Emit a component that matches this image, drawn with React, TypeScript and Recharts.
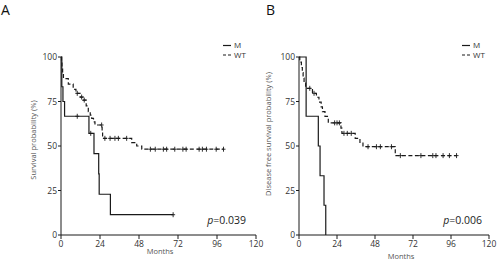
/**
 * Kaplan-Meier survival curves, M vs WT
 * Two panels drawn with recharts LineChart (stepAfter)
 */

import { LineChart, Line, XAxis, YAxis } from 'recharts';

/** Panel A - overall survival */
const A_M_TIME = [0, 0.5, 1.2, 2.2, 10, 17.2, 18.3, 20.3, 23.2, 23.5, 30.4, 69];
const A_M_SURV = [100, 83.3, 75, 66.7, 66.7, 57.1, 57.1, 45.7, 34.3, 22.9, 11.4, 11.4];
const A_M_CENSOR = [0, 0, 0, 0, 1, 0, 1, 0, 0, 0, 0, 1];

const A_WT_TIME = [
  0, 0.3, 0.6, 1.0, 1.5, 4.5, 7.5, 9.2, 10, 11.8, 12.7, 13.6, 14.3, 15.5, 16.8,
  18, 18.9, 20, 20.9, 25, 25.3, 25.6, 27, 30.2, 33.2, 35.3, 40.4, 43.5, 46.6, 49.7,
  55, 58, 63, 65, 70, 75, 77, 85, 87, 89.5, 95.5, 100,
];
const A_WT_SURV = [
  100, 97, 93.9, 90.9, 87.9, 84.8, 81.8, 79.6, 79.6, 77.5, 77.5, 75.8, 75.8, 72.5, 69.3,
  67.4, 65.5, 63.6, 61.8, 61.8, 58, 54.3, 54.3, 54.3, 54.3, 54.3, 54.3, 51.9, 50, 48.2,
  48.2, 48.2, 48.2, 48.2, 48.2, 48.2, 48.2, 48.2, 48.2, 48.2, 48.2, 48.2,
];
const A_WT_CENSOR = [
  0, 0, 0, 0, 0, 0, 0, 0, 1, 0, 1, 0, 1, 0, 0,
  0, 0, 0, 0, 1, 0, 0, 1, 1, 1, 1, 1, 0, 0, 0,
  1, 1, 1, 1, 1, 1, 1, 1, 1, 1, 1, 1,
];

/** Panel B - disease free survival */
const B_M_TIME = [0, 4.5, 12.2, 13.3, 15.8, 16.9];
const B_M_SURV = [100, 66.7, 50, 33.3, 16.7, 0];
const B_M_CENSOR = [0, 0, 0, 0, 0, 0];

const B_WT_TIME = [
  0, 0.5, 1.5, 2.1, 2.6, 3.2, 4.2, 6.8, 8.5, 9.5, 11, 12.6, 14, 14.8, 16.4,
  18.5, 22.5, 24, 25.5, 26.5, 27.1, 28.4, 30.5, 33, 35.5, 38.5, 40.4, 43.6, 48.9, 51.4,
  58.4, 60.8, 64, 77, 84.5, 86.5, 91, 95, 99.5,
];
const B_WT_SURV = [
  100, 97.1, 94.1, 91.2, 88.2, 85.3, 82.4, 82.4, 79.6, 79.6, 77.4, 74.7, 72, 69.3, 66.6,
  63, 63, 63, 63, 60, 57.1, 57.1, 57.1, 57.1, 54.3, 52, 49.6, 49.6, 49.6, 49.6,
  49.6, 44.6, 44.6, 44.6, 44.6, 44.6, 44.6, 44.6, 44.6,
];
const B_WT_CENSOR = [
  0, 0, 0, 0, 0, 0, 0, 1, 0, 1, 0, 0, 0, 0, 0,
  0, 1, 1, 1, 0, 0, 1, 1, 1, 0, 0, 0, 1, 1, 1,
  1, 0, 1, 1, 1, 1, 1, 1, 1,
];

const X_TICKS = [0, 24, 48, 72, 96, 120];
const Y_TICKS = [0, 25, 50, 75, 100];

const INK = '#1a1a1a';
const TICK_STYLE = { fontSize: 8.5, fill: '#333', fontFamily: 'Open Sans' };

function toSeries(time: number[], surv: number[], censor: number[]) {
  return time.map((t, i) => ({ time: t, surv: surv[i], censor: censor[i] === 1 }));
}

/** 删失标记 "+" */
function censorDot(prefix: string) {
  return (props: any) => {
    const { cx, cy, payload, index } = props;
    if (!payload || !payload.censor || cx == null || cy == null) {
      return <g key={`${prefix}-${index}`} />;
    }
    return (
      <g key={`${prefix}-${index}`}>
        <line x1={cx} x2={cx} y1={cy - 2.5} y2={cy + 2.5} stroke={INK} strokeWidth={0.9} />
        <line x1={cx - 2} x2={cx + 2} y1={cy} y2={cy} stroke={INK} strokeWidth={0.9} />
      </g>
    );
  };
}

/** 图例（HTML 叠加，避免占用绘图区高度） */
function KmLegend({ left, top }: { left: number; top: number }) {
  return (
    <svg width={40} height={24} style={{ position: 'absolute', left, top, overflow: 'visible' }}>
      <line x1={0} x2={8} y1={3.5} y2={3.5} stroke={INK} strokeWidth={1.2} />
      <text x={11} y={3.5} dy="0.35em" fontSize={8} fill="#333" fontFamily="Open Sans">M</text>
      <line x1={0} x2={8} y1={13} y2={13} stroke={INK} strokeWidth={1.2} strokeDasharray="3 2" />
      <text x={11} y={13} dy="0.35em" fontSize={8} fill="#333" fontFamily="Open Sans">WT</text>
    </svg>
  );
}

interface PanelProps {
  id: string;
  width: number;
  marginLeft: number;
  marginRight: number;
  mData: { time: number; surv: number; censor: boolean }[];
  wtData: { time: number; surv: number; censor: boolean }[];
}

function Panel({ id, width, marginLeft, marginRight, mData, wtData }: PanelProps) {
  return (
    <LineChart
      width={width}
      height={267}
      margin={{ top: 57, right: marginRight, bottom: 12, left: marginLeft }}
    >
      <XAxis
        dataKey="time"
        type="number"
        domain={[0, 120]}
        ticks={X_TICKS}
        allowDuplicatedCategory={false}
        tick={TICK_STYLE}
        tickSize={4}
        tickMargin={2}
        height={20}
        stroke={INK}
        interval={0}
      />
      <YAxis
        type="number"
        domain={[0, 100]}
        ticks={Y_TICKS}
        tick={TICK_STYLE}
        tickSize={3}
        tickMargin={1}
        width={30}
        stroke={INK}
        interval={0}
      />
      <Line
        data={mData}
        dataKey="surv"
        name="M"
        type="stepAfter"
        stroke={INK}
        strokeWidth={1.2}
        dot={censorDot(`${id}-m`)}
        activeDot={false}
        isAnimationActive={false}
      />
      <Line
        data={wtData}
        dataKey="surv"
        name="WT"
        type="stepAfter"
        stroke={INK}
        strokeWidth={1.2}
        strokeDasharray="4 2.5"
        dot={censorDot(`${id}-wt`)}
        activeDot={false}
        isAnimationActive={false}
      />
    </LineChart>
  );
}

const textBase: React.CSSProperties = {
  position: 'absolute',
  fontFamily: 'Open Sans',
  whiteSpace: 'nowrap',
  lineHeight: 1,
};

function RotatedLabel({ cx, cy, text }: { cx: number; cy: number; text: string }) {
  return (
    <div
      style={{
        ...textBase,
        left: cx - 100,
        top: cy - 5,
        width: 200,
        height: 10,
        textAlign: 'center',
        fontSize: 7.5,
        color: '#555',
        transform: 'rotate(-90deg)',
      }}
    >
      {text}
    </div>
  );
}

export default function App() {
  const aM = toSeries(A_M_TIME, A_M_SURV, A_M_CENSOR);
  const aWT = toSeries(A_WT_TIME, A_WT_SURV, A_WT_CENSOR);
  const bM = toSeries(B_M_TIME, B_M_SURV, B_M_CENSOR);
  const bWT = toSeries(B_WT_TIME, B_WT_SURV, B_WT_CENSOR);

  return (
    <div style={{ position: 'absolute', left: 0, top: 0, width: 500, height: 267, background: '#fff' }}>
      <div style={{ position: 'absolute', left: 0, top: 0 }}>
        <Panel id="a" width={270} marginLeft={31} marginRight={14} mData={aM} wtData={aWT} />
      </div>
      <div style={{ position: 'absolute', left: 250, top: 0 }}>
        <Panel id="b" width={250} marginLeft={19} marginRight={11} mData={bM} wtData={bWT} />
      </div>

      <KmLegend left={223} top={42} />
      <KmLegend left={462} top={42} />

      {/* 面板标题 */}
      <div style={{ ...textBase, left: 1, top: 3, fontSize: 14, color: '#111' }}>A</div>
      <div style={{ ...textBase, left: 266, top: 3, fontSize: 14, color: '#111' }}>B</div>

      {/* 坐标轴标题 */}
      <RotatedLabel cx={35} cy={140} text="Survival probability (%)" />
      <RotatedLabel cx={270} cy={134} text="Disease free survival probability (%)" />
      <div style={{ ...textBase, left: 110, top: 248, width: 100, textAlign: 'center', fontSize: 7.5, color: '#555' }}>
        Months
      </div>
      <div style={{ ...textBase, left: 351, top: 253, width: 100, textAlign: 'center', fontSize: 7.5, color: '#555' }}>
        Months
      </div>

      {/* p 值 */}
      <div style={{ ...textBase, left: 146, top: 215, width: 100, textAlign: 'right', fontSize: 10.5, color: '#222' }}>
        <i>p</i>=0.039
      </div>
      <div style={{ ...textBase, left: 382, top: 215, width: 100, textAlign: 'right', fontSize: 10.5, color: '#222' }}>
        <i>p</i>=0.006
      </div>
    </div>
  );
}
